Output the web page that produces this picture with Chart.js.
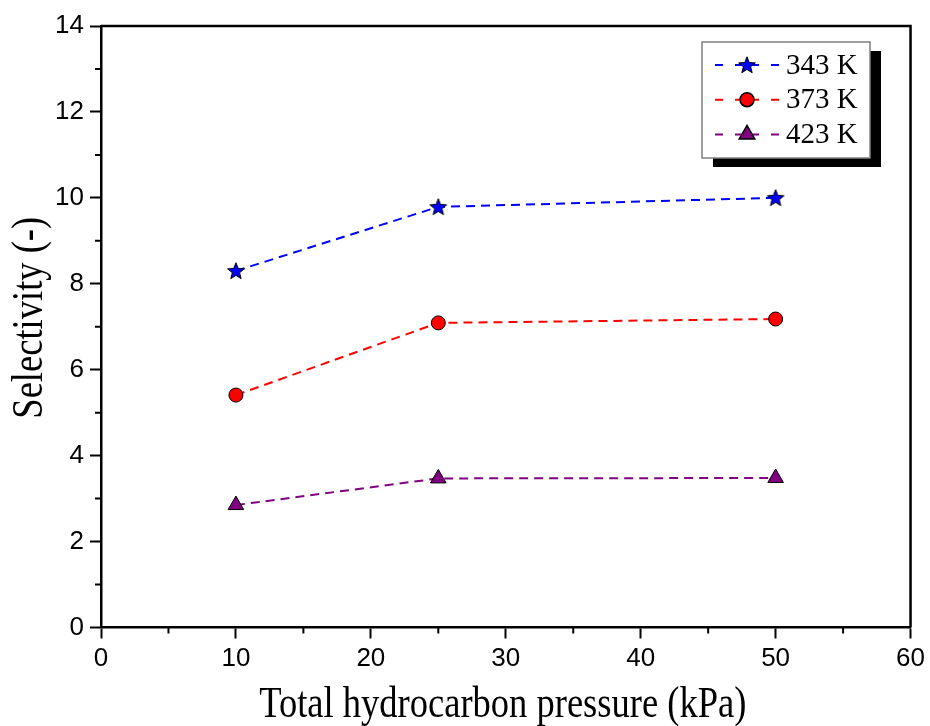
<!DOCTYPE html>
<html>
<head>
<meta charset="utf-8">
<title>Selectivity vs total hydrocarbon pressure</title>
<script src="https://cdn.jsdelivr.net/npm/chart.js@4/dist/chart.umd.min.js"></script>
<style>
  html, body { margin: 0; padding: 0; background: #fff; }
  #selChart { display: block; }
</style>
</head>
<body>
<canvas id="selChart" width="930" height="726"></canvas>
<script>
// Mesures : sélectivité en fonction de la pression totale d'hydrocarbures
const pressure = [10, 25, 50];
const sel343 = [8.3, 9.79, 10.0];
const sel373 = [5.41, 7.09, 7.18];
const sel423 = [2.85, 3.47, 3.48];
const seriesLabels = ['343 K', '373 K', '423 K'];

// Graduations des axes
const xTickValues = [0, 10, 20, 30, 40, 50, 60];
const xMinorValues = [5, 15, 25, 35, 45, 55];
const yTickValues = [0, 2, 4, 6, 8, 10, 12, 14];
const yMinorValues = [1, 3, 5, 7, 9, 11, 13];

const xTitle = 'Total hydrocarbon pressure (kPa)';
const yTitle = 'Selectivity (-)';

const serif = "'Liberation Serif', 'Times New Roman', serif";
const tickFont = "'Liberation Sans Narrow', 'Arial Narrow', 'Liberation Sans', Arial, sans-serif";

// Étoile pleine (Chart.js n'a qu'une étoile en traits)
function makeStar(fill) {
    const c = document.createElement('canvas');
    c.width = 20;
    c.height = 20;
    const g = c.getContext('2d');
    g.beginPath();
    for (let i = 0; i < 10; i++) {
        const r = i % 2 ? 3.8 : 8.8;
        const a = -Math.PI / 2 + i * Math.PI / 5;
        const px = 10 + r * Math.cos(a);
        const py = 10.6 + r * Math.sin(a);
        if (i === 0) g.moveTo(px, py); else g.lineTo(px, py);
    }
    g.closePath();
    g.fillStyle = fill;
    g.fill();
    g.lineWidth = 1;
    g.strokeStyle = '#000';
    g.stroke();
    return c;
}

function toPoints(ys) {
    return pressure.map((x, i) => ({ x: x, y: ys[i] }));
}

function makeDataset(label, ys, color, style, radius) {
    return {
        label: label,
        data: toPoints(ys),
        borderColor: color,
        backgroundColor: color,
        borderWidth: 2,
        borderDash: [9, 6],
        pointStyle: style,
        pointRadius: radius,
        pointHoverRadius: radius,
        pointBackgroundColor: color,
        pointBorderColor: '#000',
        pointBorderWidth: 1,
        tension: 0
    };
}

// Cadre, graduations secondaires, titres d'axes et légende
const decorations = {
    id: 'decorations',
    afterDraw(chart) {
        const ctx = chart.ctx;
        const area = chart.chartArea;
        const xs = chart.scales.x;
        const ys = chart.scales.y;

        ctx.save();
        ctx.strokeStyle = '#000';
        ctx.lineWidth = 2.5;
        ctx.beginPath();
        ctx.moveTo(area.left, area.top);
        ctx.lineTo(area.right, area.top);
        ctx.lineTo(area.right, area.bottom);
        ctx.stroke();

        ctx.lineWidth = 2;
        ctx.beginPath();
        xMinorValues.forEach(v => {
            const px = xs.getPixelForValue(v);
            ctx.moveTo(px, area.bottom);
            ctx.lineTo(px, area.bottom + 6);
        });
        yMinorValues.forEach(v => {
            const py = ys.getPixelForValue(v);
            ctx.moveTo(area.left, py);
            ctx.lineTo(area.left - 6, py);
        });
        ctx.stroke();

        // titres en police serif étroite
        ctx.fillStyle = '#000';
        ctx.font = '44px ' + serif;
        ctx.textAlign = 'center';
        ctx.textBaseline = 'alphabetic';
        ctx.save();
        ctx.translate((area.left + area.right) / 2 - 3, 717);
        ctx.scale(0.83, 1);
        ctx.fillText(xTitle, 0, 0);
        ctx.restore();

        ctx.save();
        ctx.translate(42, (area.top + area.bottom) / 2 - 9);
        ctx.rotate(-Math.PI / 2);
        ctx.scale(0.83, 1);
        ctx.fillText(yTitle, 0, 0);
        ctx.restore();

        // légende avec ombre portée
        const bx = 702, by = 42, bw = 168, bh = 116;
        ctx.fillStyle = '#000';
        ctx.fillRect(bx + 11, by + 9, bw, bh);
        ctx.fillStyle = '#fff';
        ctx.fillRect(bx, by, bw, bh);
        ctx.strokeStyle = '#808080';
        ctx.lineWidth = 1.5;
        ctx.strokeRect(bx, by, bw, bh);

        chart.data.datasets.forEach((ds, i) => {
            const rowY = 65 + i * 34.7;
            ctx.save();
            ctx.strokeStyle = ds.borderColor;
            ctx.lineWidth = 2;
            ctx.setLineDash([8, 12]);
            ctx.beginPath();
            ctx.moveTo(715, rowY);
            ctx.lineTo(745, rowY);
            ctx.stroke();
            ctx.beginPath();
            ctx.moveTo(779, rowY);
            ctx.lineTo(749, rowY);
            ctx.stroke();
            ctx.restore();

            ctx.fillStyle = ds.pointBackgroundColor;
            ctx.strokeStyle = ds.pointBorderColor;
            Chart.helpers.drawPoint(ctx, {
                pointStyle: ds.pointStyle,
                radius: ds.pointRadius,
                rotation: 0,
                borderWidth: 1
            }, 747, rowY);

            ctx.fillStyle = '#000';
            ctx.font = '29px ' + serif;
            ctx.textAlign = 'left';
            ctx.textBaseline = 'middle';
            ctx.fillText(ds.label, 786, rowY + 1);
        });
        ctx.restore();
    }
};

const ctx = document.getElementById('selChart').getContext('2d');

const selChart = new Chart(ctx, {
    type: 'line',
    data: {
        datasets: [
            makeDataset(seriesLabels[0], sel343, '#0000ff', makeStar('#0000ff'), 9),
            makeDataset(seriesLabels[1], sel373, '#ff0000', 'circle', 7),
            makeDataset(seriesLabels[2], sel423, '#800080', 'triangle', 9)
        ]
    },
    options: {
        responsive: false,
        animation: false,
        layout: { padding: { left: 0, top: 26, right: 16, bottom: 0 } },
        plugins: {
            legend: { display: false },
            tooltip: { enabled: false }
        },
        scales: {
            x: {
                type: 'linear',
                min: 0,
                max: 60,
                afterBuildTicks: scale => {
                    scale.ticks = xTickValues.map(v => ({ value: v }));
                },
                afterFit: scale => { scale.height = 98.5; },
                ticks: {
                    color: '#000',
                    padding: 5,
                    font: { family: tickFont, size: 26 }
                },
                grid: {
                    display: true,
                    drawOnChartArea: false,
                    tickLength: 11,
                    tickWidth: 2,
                    tickColor: '#000'
                },
                border: { display: true, color: '#000', width: 2.5 }
            },
            y: {
                type: 'linear',
                min: 0,
                max: 14,
                afterBuildTicks: scale => {
                    scale.ticks = yTickValues.map(v => ({ value: v }));
                },
                afterFit: scale => { scale.width = 101; },
                ticks: {
                    color: '#000',
                    padding: 6,
                    font: { family: tickFont, size: 26 }
                },
                grid: {
                    display: true,
                    drawOnChartArea: false,
                    tickLength: 11,
                    tickWidth: 2,
                    tickColor: '#000'
                },
                border: { display: true, color: '#000', width: 2.5 }
            }
        }
    },
    plugins: [decorations]
});
</script>
</body>
</html>
